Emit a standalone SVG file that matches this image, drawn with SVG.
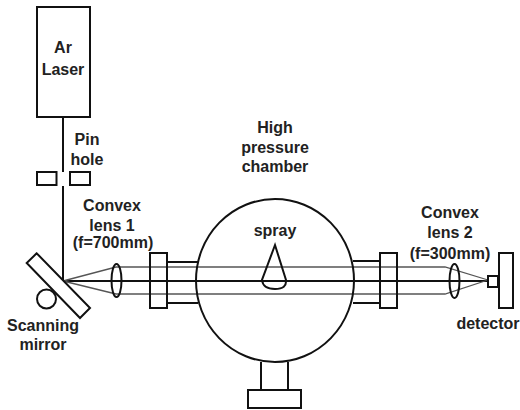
<svg xmlns="http://www.w3.org/2000/svg" width="520" height="410" viewBox="0 0 520 410">
<style>
.s{fill:none;stroke:#111;stroke-width:2}
.b{fill:none;stroke:#111;stroke-width:2}
.g{fill:none;stroke:#555;stroke-width:1.3}
text{font-family:"Liberation Sans",Arial,sans-serif;font-size:16px;font-weight:bold;fill:#222;text-anchor:middle}
</style>
<rect width="520" height="410" fill="#fff"/>
<g id="connectors">
<path class="b" d="M63 117V172M63 186V281M63 281H488"/>
<path class="g" d="M63 281L116 267H445L488 280M63 281L116 294H445L488 280"/>
</g>
<g id="laser"><rect class="s" x="37" y="7" width="53" height="110"/><text x="63" y="53">Ar</text><text x="63" y="75">Laser</text></g>
<g id="pinhole"><rect class="s" x="37" y="172" width="19.500" height="13"/><rect class="s" x="70" y="172" width="20" height="13"/><text x="87" y="145">Pin</text><text x="87" y="165">hole</text></g>
<g id="mirror"><circle class="s" cx="46.500" cy="299" r="9.500"/><path d="M36.700 253.300L26.700 263L80 318L90 308Z" fill="#fff" stroke="#111" stroke-width="2"/><text x="43" y="331">Scanning</text><text x="43" y="350">mirror</text></g>
<g id="lens1"><ellipse class="s" cx="116.500" cy="280.500" rx="5" ry="16.500"/><text x="112" y="211">Convex</text><text x="112" y="231">lens 1</text><text x="113" y="248">(f=700mm)</text></g>
<g id="chamber"><path class="s" d="M167 262H198M167 303H198"/><rect class="s" x="150" y="253" width="17" height="55"/><path class="s" d="M353 261H380M353 303H380"/><rect class="s" x="380" y="253" width="17" height="55"/><ellipse class="s" cx="275" cy="280.500" rx="79" ry="81.500"/><path class="s" d="M261 362V390M288 362V390"/><rect class="s" x="248" y="390" width="53" height="18"/><text x="275" y="133">High</text><text x="275" y="153">pressure</text><text x="275" y="172">chamber</text></g>
<g id="spray"><path class="s" d="M275 245L262 280Q263 289 275 289Q287 289 286 280Z"/><text x="275" y="236">spray</text></g>
<g id="lens2"><ellipse class="s" cx="454.500" cy="281" rx="5" ry="17"/><text x="450" y="218">Convex</text><text x="450" y="238">lens 2</text><text x="450" y="259">(f=300mm)</text></g>
<g id="detector"><rect class="s" x="488" y="276" width="10" height="11"/><rect class="s" x="499" y="253" width="14" height="55"/><text x="488" y="329">detector</text></g>
</svg>
